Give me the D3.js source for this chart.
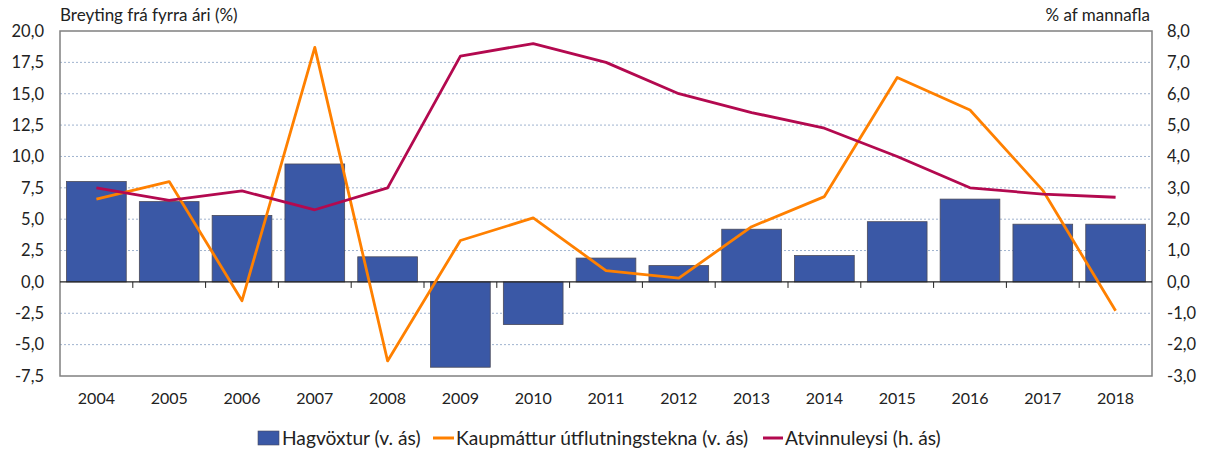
<!DOCTYPE html>
<html><head><meta charset="utf-8">
<script src="https://cdn.jsdelivr.net/npm/d3@7"></script>
<style>body{margin:0;background:#fff;} svg{display:block;font-family:Lato,"Open Sans",sans-serif;}</style>
</head><body>
<svg id="c" width="1207" height="452"></svg>
<script>
const years = ["2004","2005","2006","2007","2008","2009","2010","2011","2012","2013","2014","2015","2016","2017","2018"];
const hagvoxtur = [8.0,6.4,5.3,9.4,2.0,-6.8,-3.4,1.9,1.3,4.2,2.1,4.8,6.6,4.6,4.6];
const kaupmattur = [6.6,8.0,-1.5,18.7,-6.3,3.3,5.1,0.9,0.3,4.4,6.8,16.3,13.7,7.3,-2.3];
const atvinnuleysi = [3.0,2.6,2.9,2.3,3.0,7.2,7.6,7.0,6.0,5.4,4.9,4.0,3.0,2.8,2.7];
const leftTicks = [-7.5,-5,-2.5,0,2.5,5,7.5,10,12.5,15,17.5,20];
const rightTicks = [-3,-2,-1,0,1,2,3,4,5,6,7,8];

const svg = d3.select("#c");
const L=60, R=1152, T=31, B=376;
const x = d3.scaleBand().domain(years).range([L,R]).paddingInner(0.18).paddingOuter(0.09);
const xc = d3.scaleBand().domain(years).range([L,R]);
const yL = d3.scaleLinear().domain([-7.5,20]).range([B,T]);
const yR = d3.scaleLinear().domain([-3,8]).range([B,T]);
const fmt = d => d.toFixed(1).replace(".",",");

// grid
svg.append("g").selectAll("line").data(leftTicks.filter(d=>d!==20 && d!==-7.5 && d!==0)).join("line")
  .attr("x1",L).attr("x2",R).attr("y1",d=>yL(d)).attr("y2",d=>yL(d))
  .attr("stroke","#9fb3cf").attr("stroke-width",1).attr("stroke-dasharray","2,2");

// bars
svg.append("g").selectAll("rect").data(years).join("rect")
  .attr("x",d=>x(d)).attr("width",x.bandwidth())
  .attr("y",(d,i)=>yL(Math.max(0,hagvoxtur[i])))
  .attr("height",(d,i)=>Math.abs(yL(hagvoxtur[i])-yL(0)))
  .attr("fill","#3a58a6").attr("stroke","#4a4a5a").attr("stroke-width",0.8);

// frame
svg.append("rect").attr("x",L).attr("y",T).attr("width",R-L).attr("height",B-T)
  .attr("fill","none").attr("stroke","#808080").attr("stroke-width",1.5);

// zero axis with ticks
svg.append("line").attr("x1",L).attr("x2",R).attr("y1",yL(0)).attr("y2",yL(0)).attr("stroke","#222").attr("stroke-width",1.3);
svg.append("g").selectAll("line").data(d3.range(1,years.length)).join("line")
  .attr("x1",i=>L+i*xc.step()).attr("x2",i=>L+i*xc.step())
  .attr("y1",yL(0)).attr("y2",yL(0)+6).attr("stroke","#222").attr("stroke-width",1);

// x labels
svg.append("g").selectAll("text").data(years).join("text")
  .attr("x",d=>xc(d)+xc.bandwidth()/2).attr("y",404).attr("text-anchor","middle")
  .attr("font-size",16).attr("fill","#222").text(d=>d);

// left axis
const la = svg.append("g").attr("transform",`translate(${L},0)`).call(d3.axisLeft(yL).tickValues(leftTicks).tickSize(0).tickPadding(16).tickFormat(fmt));
la.select(".domain").remove();
la.selectAll("text").attr("font-size",16.5).attr("fill","#222").attr("font-family","Lato,'Open Sans',sans-serif");
// right axis
const ra = svg.append("g").attr("transform",`translate(${R},0)`).call(d3.axisRight(yR).tickValues(rightTicks).tickSize(0).tickPadding(15).tickFormat(fmt));
ra.select(".domain").remove();
ra.selectAll("text").attr("font-size",16.5).attr("fill","#222").attr("font-family","Lato,'Open Sans',sans-serif");

// lines
const cx = i => xc(years[i])+xc.bandwidth()/2;
svg.append("path").datum(kaupmattur).attr("fill","none").attr("stroke","#ff8000").attr("stroke-width",2.8)
  .attr("stroke-linejoin","round")
  .attr("d",d3.line().x((d,i)=>cx(i)).y(d=>yL(d)));
svg.append("path").datum(atvinnuleysi).attr("fill","none").attr("stroke","#b3094f").attr("stroke-width",2.8)
  .attr("stroke-linejoin","round")
  .attr("d",d3.line().x((d,i)=>cx(i)).y(d=>yR(d)));

// titles
svg.append("text").attr("x",60).attr("y",21).attr("font-size",17).attr("fill","#222").text("Breyting frá fyrra ári (%)");
svg.append("text").attr("x",1150).attr("y",21).attr("text-anchor","end").attr("font-size",17).attr("fill","#222").text("% af mannafla");

// legend
const lg = svg.append("g");
lg.append("rect").attr("x",258).attr("y",431).attr("width",21).attr("height",14).attr("fill","#3a58a6").attr("stroke","#4a4a5a").attr("stroke-width",0.6);
lg.append("text").attr("x",282).attr("y",445).attr("font-size",19.2).attr("fill","#222").text("Hagvöxtur (v. ás)");
lg.append("line").attr("x1",433).attr("x2",454).attr("y1",438).attr("y2",438).attr("stroke","#ff8000").attr("stroke-width",3);
lg.append("text").attr("x",456).attr("y",445).attr("font-size",19.2).attr("fill","#222").text("Kaupmáttur útflutningstekna (v. ás)");
lg.append("line").attr("x1",763).attr("x2",783).attr("y1",438).attr("y2",438).attr("stroke","#b3094f").attr("stroke-width",3);
lg.append("text").attr("x",785).attr("y",445).attr("font-size",19.2).attr("fill","#222").text("Atvinnuleysi (h. ás)");
</script>
</body></html>
